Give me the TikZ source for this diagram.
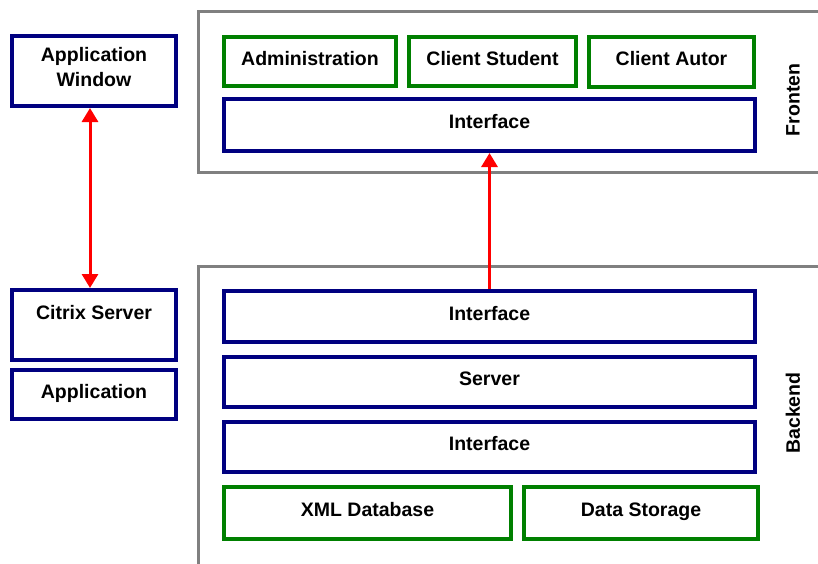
\documentclass[tikz,border=0pt]{standalone}
\usepackage{fontspec}
\setmainfont{Liberation Sans}
\usetikzlibrary{arrows.meta}
\definecolor{navyc}{RGB}{0,0,128}
\definecolor{greenc}{RGB}{0,128,0}
\definecolor{grayc}{RGB}{128,128,128}
\definecolor{redc}{RGB}{255,0,0}
\begin{document}
\begin{tikzpicture}[x=1pt,y=-1pt,
  every node/.style={font=\fontsize{19.5}{25}\selectfont\bfseries, inner sep=0pt, align=center},
  boxtext/.style={text height=14pt, text depth=7pt},
  bluebox/.style={boxtext, draw=navyc, line width=4pt, fill=white},
  greenbox/.style={boxtext, draw=greenc, line width=4pt, fill=white},
  container/.style={draw=grayc, line width=3pt},
  redarrow/.style={draw=redc, line width=3pt, -{Triangle[width=16pt,length=14pt]}},
  redboth/.style={draw=redc, line width=3pt, {Triangle[width=16pt,length=14pt]}-{Triangle[width=16pt,length=14pt]}},
  sidelabel/.style={rotate=90}]
\useasboundingbox (0,0) rectangle (818,563);
\fill[white] (0,0) rectangle (818,563);
\begin{scope}
\clip (0,0) rectangle (818,563);
% containers
\draw[container] (830,11.5) -- (198.5,11.5) -- (198.5,172.5) -- (830,172.5);
\draw[container] (830,266.5) -- (198.5,266.5) -- (198.5,580);
\end{scope}
% left column
\node[bluebox, minimum width=164pt, minimum height=70pt] (aw) at (94,71) {};
\node (awt) at (94,67) {Application\\Window};
\node[bluebox, minimum width=164pt, minimum height=70pt] (cs) at (94,325) {};
\node[boxtext] (cst) at (94,315.5) {Citrix Server};
\node[bluebox, minimum width=164pt, minimum height=49pt] (app) at (94,394.5) {Application};
% frontend
\node[greenbox, minimum width=172pt, minimum height=49pt] (adm) at (310,61.5) {Administration};
\node[greenbox, minimum width=167pt, minimum height=49pt] (cst2) at (492.5,61.5) {Client Student};
\node[greenbox, minimum width=165pt, minimum height=50pt] (ca) at (671.5,62) {Client Autor};
\node[bluebox, minimum width=531pt, minimum height=52pt] (fi) at (489.5,125) {Interface};
\node[sidelabel] (fl) at (793,100) {Fronten};
% backend
\node[bluebox, minimum width=531pt, minimum height=51pt] (bi) at (489.5,316.5) {Interface};
\node[bluebox, minimum width=531pt, minimum height=50pt] (srv) at (489.5,382) {Server};
\node[bluebox, minimum width=531pt, minimum height=50pt] (bi2) at (489.5,447) {Interface};
\node[greenbox, minimum width=287pt, minimum height=52pt] (xml) at (367.5,513) {XML Database};
\node[greenbox, minimum width=234pt, minimum height=52pt] (ds) at (641,513) {Data Storage};
\node[sidelabel] (bl) at (793,413) {Backend};
% arrows
\draw[redarrow] (bi.north) -- (fi.south);
\draw[redboth] ([xshift=-4pt]aw.south) -- ([xshift=-4pt]cs.north);
\end{tikzpicture}
\end{document}
